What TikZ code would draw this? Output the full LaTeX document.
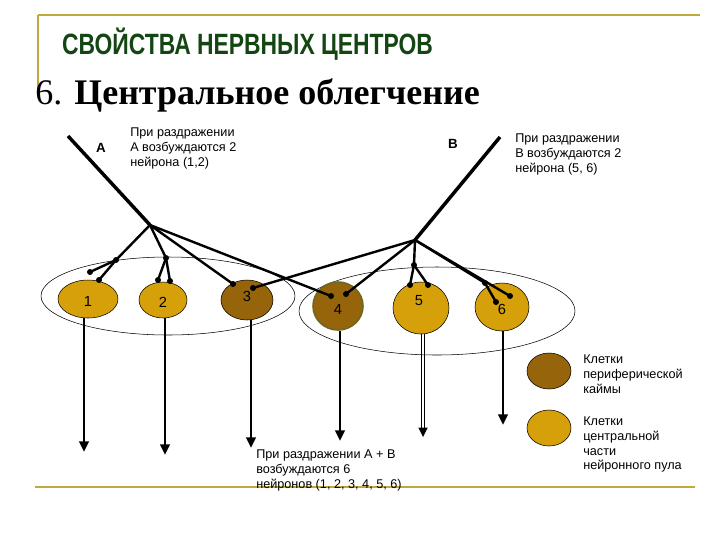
\documentclass[tikz,border=0pt]{standalone}
\usepackage{fontspec}
\setmainfont{Liberation Sans}
\newfontfamily\serifb{Liberation Serif}
\usetikzlibrary{arrows.meta,shapes.geometric}
\definecolor{gold}{RGB}{214,160,10}
\definecolor{brn}{RGB}{150,100,10}
\definecolor{olv}{RGB}{190,170,60}
\definecolor{dgreen}{RGB}{20,70,20}
\tikzset{
 neu/.style={draw=black,fill=gold,inner sep=0pt},
 per/.style={draw=black,fill=brn,inner sep=0pt},
 fib/.style={line width=2.6pt},
 br/.style={line width=1.8pt},
 ax/.style={line width=2pt,-{Triangle[length=8pt,width=7pt]}},
 syn/.style={circle,fill=black,inner sep=0pt,minimum size=4.5pt},
 lbl/.style={font=\fontsize{9.5}{11}\selectfont,align=left,anchor=north west,inner sep=0pt},
}
\begin{document}
\begin{tikzpicture}[x=0.75pt,y=-0.75pt]
\useasboundingbox (0,0) rectangle (720,540);
\draw[olv,line width=1pt] (38,15) -- (700,15);
\draw[olv,line width=1pt] (38,15) -- (38,92);
\draw[olv,line width=2pt] (35,487) -- (695,487);
\node[anchor=west,text=dgreen,font=\bfseries\fontsize{22}{24}\selectfont,xscale=0.78,inner sep=0] (t1) at (62,44) {СВОЙСТВА НЕРВНЫХ ЦЕНТРОВ};
\node[anchor=west,font=\serifb\fontsize{27}{30}\selectfont,inner sep=0] (t2) at (35,95) {6. \textbf{Центральное облегчение}};
% pools
\draw[thin] (168,296) ellipse [x radius=127,y radius=39];
\draw[thin] (437,311) ellipse [x radius=138,y radius=44];
% neurons
\node[neu,ellipse,minimum width=60pt*0.75,minimum height=38pt*0.75] (n1) at (88,299) {};
\node[neu,minimum width=48pt*0.75,minimum height=36pt*0.75,ellipse] (n2) at (163,300) {};
\node[per,minimum width=52pt*0.75,minimum height=40pt*0.75,ellipse] (n3) at (247,300) {};
\node[per,draw=olive!70!black,line width=1.2pt,minimum width=50pt*0.75,minimum height=48pt*0.75,ellipse] (n4) at (338,306) {};
\node[neu,minimum width=56pt*0.75,minimum height=52pt*0.75,ellipse] (n5) at (421,308) {};
\node[neu,minimum width=54pt*0.75,minimum height=48pt*0.75,ellipse] (n6) at (502,307) {};
\path (n1)++(0,2) node[font=\fontsize{11}{12}\selectfont] {1};
\path (n2)++(0,2) node[font=\fontsize{11}{12}\selectfont] {2};
\path (n3)++(0,-4) node[font=\fontsize{11}{12}\selectfont] {3};
\path (n4)++(0,3) node[font=\fontsize{11}{12}\selectfont] {4};
\path (n5)++(-2,-7) node[font=\fontsize{11}{12}\selectfont] {5};
\path (n6)++(0,2) node[font=\fontsize{11}{12}\selectfont] {6};
% axons
\coordinate (e1) at (84,452); \coordinate (e2) at (165,455);
\coordinate (e3) at (251,448); \coordinate (e4) at (340,441);
\coordinate (e5) at (423,437); \coordinate (e6) at (503,425);
\draw[ax] (n1.south -| e1) -- (e1);
\draw[ax] (n2.south -| e2) -- (e2);
\draw[ax] (n3.south -| e3) -- (e3);
\draw[ax] (n4.south -| e4) -- (e4);
\draw[line width=0.6pt] ([xshift=-1pt]n5.south -| e5) -- ([xshift=-1pt,yshift=6pt]e5);
\draw[line width=0.6pt] ([xshift=1pt]n5.south -| e5) -- ([xshift=1pt,yshift=6pt]e5);
\fill ([yshift=7pt]e5) -- ++(-3.5pt,0) -- (e5) -- ([xshift=3.5pt,yshift=7pt]e5) -- cycle;
\draw[ax] (n6.south -| e6) -- (e6);
% fibre A
\coordinate (A0) at (68,136); \coordinate (Ab) at (150,225);
\draw[fib] (A0) -- (Ab);
\coordinate (a1) at (116,260); \coordinate (a2) at (166,258);
\draw[br] (Ab) -- (a1); \draw[br] (a1) -- (90,272); \draw[br] (a1) -- (99,280);
\draw[br] (Ab) -- (a2); \draw[br] (a2) -- (158,280); \draw[br] (a2) -- (170,281);
\draw[br] (Ab) -- (233,284);
\draw[br] (Ab) -- (331,296);
\foreach \p in {(90,272),(99,280),(158,280),(170,281),(233,284),(331,296),(116,260),(166,258)} \node[syn] at \p {};
% fibre B
\coordinate (B0) at (500,137); \coordinate (Bb) at (415,240);
\draw[fib] (B0) -- (Bb);
\coordinate (b1) at (414,265); \coordinate (b2) at (485,283);
\draw[br] (Bb) -- (253,288);
\draw[br] (Bb) -- (346,294);
\draw[br] (Bb) -- (b1); \draw[br] (b1) -- (410,285); \draw[br] (b1) -- (428,285);
\draw[br] (Bb) -- (b2); \draw[br] (b2) -- (496,302); \draw[br] (Bb) -- (510,296);
\foreach \p in {(253,288),(346,294),(410,285),(428,285),(496,302),(510,296),(414,265),(485,283)} \node[syn] at \p {};
% labels
\node[font=\bfseries\fontsize{10}{12}\selectfont] (lA) at (101,148) {А};
\node[font=\bfseries\fontsize{10}{12}\selectfont] (lB) at (453,144) {В};
\node[lbl] (tA) at (130,128) {При раздражении\\А возбуждаются  2\\нейрона (1,2)};
\node[lbl] (tB) at (515,134) {При раздражении\\В возбуждаются  2\\нейрона (5, 6)};
\node[lbl] (tAB) at (256,450) {При раздражении А + В\\возбуждаются  6\\нейронов (1, 2, 3, 4, 5, 6)};
% legend
\node[per,ellipse,minimum width=44pt*0.75,minimum height=36pt*0.75] (L1) at (549,371) {};
\node[neu,ellipse,minimum width=44pt*0.75,minimum height=36pt*0.75] (L2) at (549,428) {};
\node[lbl] (tL1) at (583,355) {Клетки\\периферической\\каймы};
\node[lbl] (tL2) at (583,417) {Клетки\\центральной\\части\\нейронного пула};
\end{tikzpicture}
\end{document}
